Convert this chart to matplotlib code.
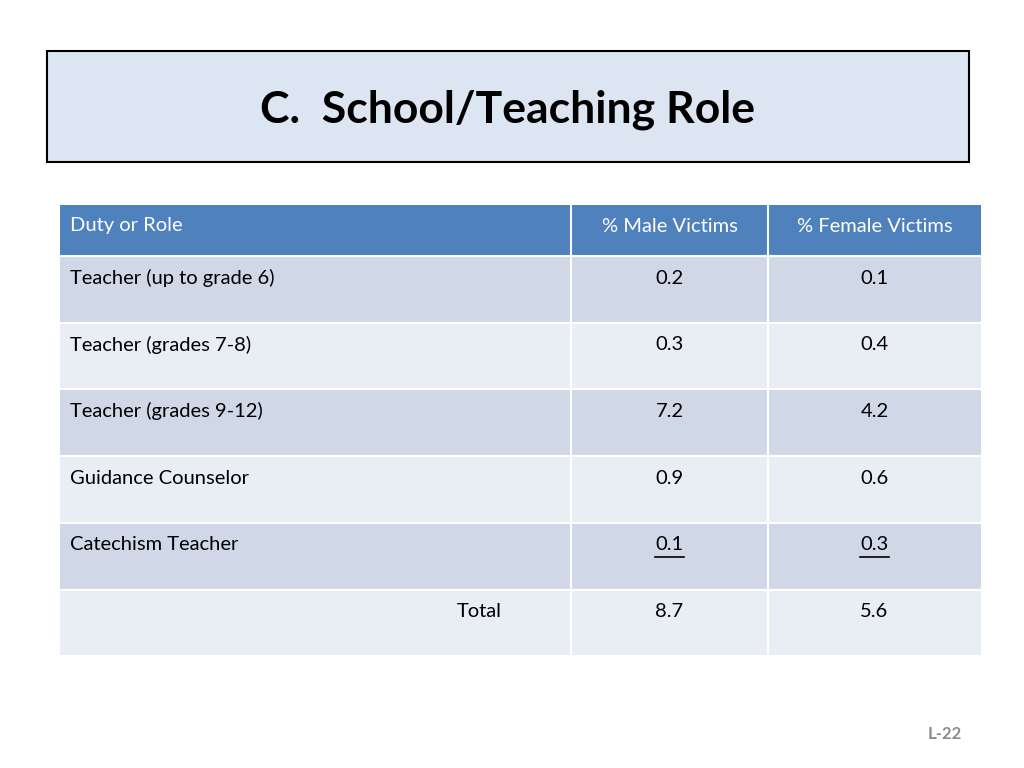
import matplotlib
matplotlib.use("Agg")
import matplotlib.pyplot as plt
from matplotlib.patches import Rectangle

title = "C.  School/Teaching Role"
headers = ["Duty or Role", "% Male Victims", "% Female Victims"]
roles = ["Teacher (up to grade 6)", "Teacher (grades 7-8)", "Teacher (grades 9-12)",
         "Guidance Counselor", "Catechism Teacher", "Total"]
male = ["0.2", "0.3", "7.2", "0.9", "0.1", "8.7"]
female = ["0.1", "0.4", "4.2", "0.6", "0.3", "5.6"]
underlined_row = 4

FONT = ["Lato", "DejaVu Sans"]
fig = plt.figure(figsize=(10.24, 7.68), dpi=100)
ax = fig.add_axes([0, 0, 1, 1])
ax.set_xlim(0, 1024); ax.set_ylim(768, 0); ax.axis("off")

ax.add_patch(Rectangle((47, 51), 922, 111, facecolor="#dce6f2", edgecolor="black", lw=1.5))
ax.text(508, 110, title, ha="center", va="center", fontsize=32, fontweight="bold", family=FONT)

cols = [60, 571, 768, 981]
hy0, hy1 = 205, 256
rh = 66.7
ax.add_patch(Rectangle((cols[0], hy0), cols[3]-cols[0], hy1-hy0, facecolor="#4f81bd", edgecolor="none"))
ax.text(70, 226, headers[0], va="center", fontsize=14.5, color="white", family=FONT)
ax.text((cols[1]+cols[2])/2, 226, headers[1], ha="center", va="center", fontsize=14.5, color="white", family=FONT)
ax.text((cols[2]+cols[3])/2, 226, headers[2], ha="center", va="center", fontsize=14.5, color="white", family=FONT)

texts = []
for i, role in enumerate(roles):
    y0 = hy1 + i*rh
    ax.add_patch(Rectangle((cols[0], y0), cols[3]-cols[0], rh,
                           facecolor="#d0d8e8" if i % 2 == 0 else "#e9edf4", edgecolor="none"))
    ty = y0 + 22
    if role == "Total":
        ax.text(502, ty, role, ha="right", va="center", fontsize=14.5, family=FONT)
    else:
        ax.text(70, ty, role, va="center", fontsize=14.5, family=FONT)
    for c, v in ((0, male[i]), (1, female[i])):
        t = ax.text((cols[1+c]+cols[2+c])/2, ty, v, ha="center", va="center", fontsize=14.5, family=FONT)
        if i == underlined_row:
            texts.append((t, ty))
for x in cols[1:3]:
    ax.plot([x, x], [hy0, hy1 + 6*rh], color="white", lw=1.5)
for i in range(7):
    ax.plot([cols[0], cols[3]], [hy1 + i*rh]*2, color="white", lw=1.5)

fig.canvas.draw()
r = fig.canvas.get_renderer()
for t, ty in texts:
    bb = t.get_window_extent(r)
    ax.plot([bb.x0, bb.x1], [ty + 12, ty + 12], color="black", lw=1.2)

ax.text(962, 734, "L-22", ha="right", va="center", fontsize=12, fontweight="bold", color="#8c8c8c", family=FONT)
fig.savefig("out.png", dpi=100)
